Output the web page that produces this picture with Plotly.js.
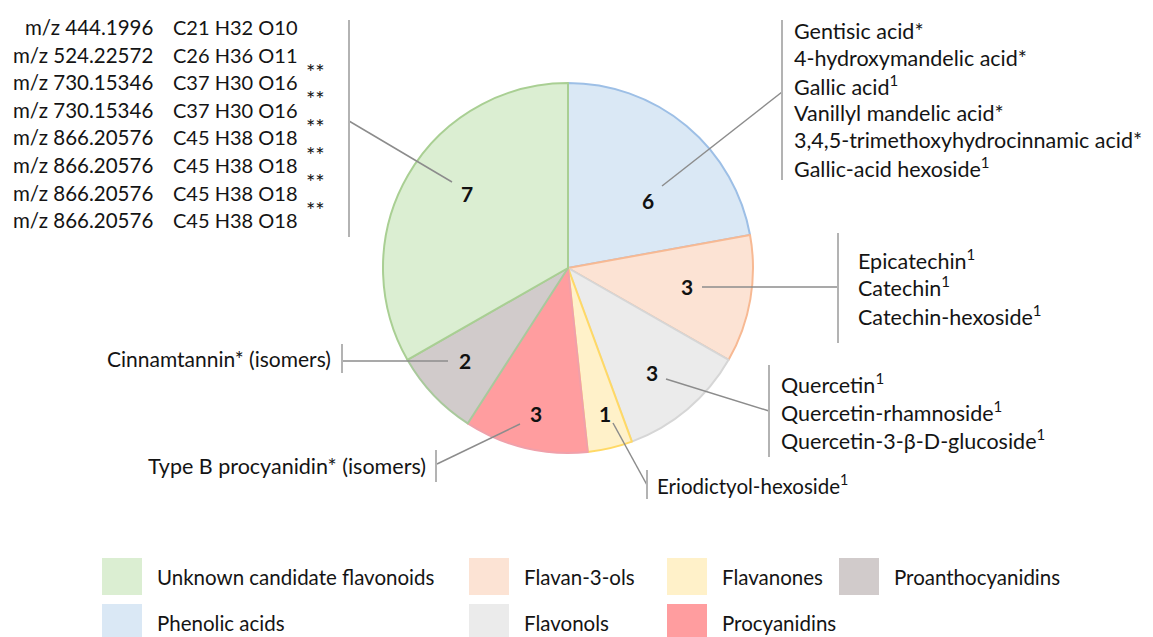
<!DOCTYPE html>
<html>
<head>
<meta charset="utf-8">
<script src="https://cdn.plot.ly/plotly-3.0.1.min.js"></script>
<style>html,body{margin:0;padding:0;background:#fff;}#chart{width:1153px;height:637px;}</style>
</head>
<body>
<div id="chart"></div>
<script>
// ---------- DATA ----------
const categories = ['Phenolic acids','Flavan-3-ols','Flavonols','Flavanones','Procyanidins','Proanthocyanidins','Unknown candidate flavonoids'];
// number of compounds printed on each slice
const compoundCounts = [6, 3, 3, 1, 3, 2, 7];
// angular share of each slice as drawn in the picture (%)
const sliceShare = [22.1, 11.1, 11.1, 3.9, 10.8, 7.6, 33.2];

const phenolicCompounds = ['Gentisic acid*','4-hydroxymandelic acid*','Gallic acid<sup>1</sup>','Vanillyl mandelic acid*','3,4,5-trimethoxyhydrocinnamic acid*','Gallic-acid hexoside<sup>1</sup>'];
const flavanolCompounds = ['Epicatechin<sup>1</sup>','Catechin<sup>1</sup>','Catechin-hexoside<sup>1</sup>'];
const flavonolCompounds = ['Quercetin<sup>1</sup>','Quercetin-rhamnoside<sup>1</sup>','Quercetin-3-β-D-glucoside<sup>1</sup>'];
const flavanoneCompounds = ['Eriodictyol-hexoside<sup>1</sup>'];
const procyanidinCompounds = ['Type B procyanidin* (isomers)'];
const proanthocyanidinCompounds = ['Cinnamtannin* (isomers)'];
const unknownMz = ['m/z 444.1996','m/z 524.22572','m/z 730.15346','m/z 730.15346','m/z 866.20576','m/z 866.20576','m/z 866.20576','m/z 866.20576'];
const unknownFormula = ['C21 H32 O10','C26 H36 O11','C37 H30 O16','C37 H30 O16','C45 H38 O18','C45 H38 O18','C45 H38 O18','C45 H38 O18'];
const unknownMark = ['','','**','**','**','**','**','**'];

// legend order (as in the picture)
const legendOrder = ['Unknown candidate flavonoids','Flavan-3-ols','Flavanones','Proanthocyanidins','Phenolic acids','Flavonols','Procyanidins'];

// ---------- STYLE ----------
const fillColors = ['#dae8f5','#fce3d4','#ebebeb','#fff1c9','#ff9d9f','#d1cbcb','#dbeed2'];
const lineColors = ['#9dbfe6','#f7b993','#d6d6d6','#ffd966','#f0a0aa','#a9c99c','#a9cf93'];
const W = 1153, H = 637;
const FONT = 'Lato, "Open Sans", sans-serif';
const TXT = '#141414';
const px = x => x / W;
const py = y => 1 - y / H;
const CX = 568, CY = 268, R = 185;

// callout geometry (pixels): label spot, leader line, bracket, text block
const callouts = [
  {label:[648,200], lead:[[662,186],[782,92]],  bracket:[782,20,180],  text:phenolicCompounds, tx:792, ty:31, dy:27.3, anchor:'left', size:21.5},
  {label:[687,287], lead:[[702,287],[838,287]], bracket:[838,233,343], text:flavanolCompounds, tx:856, ty:259, dy:28, anchor:'left', size:21.5},
  {label:[652,373], lead:[[666,379],[769,411]], bracket:[769,365,457], text:flavonolCompounds, tx:779, ty:384, dy:27.5, anchor:'left', size:21.5},
  {label:[605,413], lead:[[613,423],[647,485]], bracket:[647,470,499], text:flavanoneCompounds, tx:655, ty:484, dy:27, anchor:'left', size:20.5},
  {label:[536,413], lead:[[520,424],[437,464]], bracket:[436,450,482], text:procyanidinCompounds, tx:428, ty:466, dy:27, anchor:'right', size:21.5},
  {label:[465,360], lead:[[448,361],[342,361]], bracket:[342,344,373], text:proanthocyanidinCompounds, tx:333, ty:358, dy:27, anchor:'right', size:21},
  {label:[467,193], lead:[[452,182],[349,121]], bracket:[349,20,237], text:null}
];

const legendPos = {
  'Unknown candidate flavonoids':[102,558], 'Flavan-3-ols':[469,558], 'Flavanones':[667,558], 'Proanthocyanidins':[839,558],
  'Phenolic acids':[102,604], 'Flavonols':[469,604], 'Procyanidins':[667,604]
};
const SW = 40, SH = 37;

// ---------- BUILD ----------
const trace = {
  type:'pie',
  values: sliceShare,
  labels: categories,
  sort:false, direction:'clockwise', rotation:0,
  textinfo:'none', hoverinfo:'label',
  marker:{colors: fillColors, line:{color: lineColors, width:2}},
  domain:{x:[px(CX-R), px(CX+R)], y:[py(CY+R), py(CY-R)]},
  showlegend:false
};

const shapes = [];
const annotations = [];
const lineCol = '#8c8c8c', bracketCol = '#b3b3b3';

callouts.forEach((c, i) => {
  annotations.push({xref:'paper', yref:'paper', x:px(c.label[0]), y:py(c.label[1]), text:String(compoundCounts[i]),
    showarrow:false, xanchor:'center', yanchor:'middle', font:{family:FONT, size:21, color:'#111', weight:'bold'}});
  shapes.push({type:'line', xref:'paper', yref:'paper', x0:px(c.lead[0][0]), y0:py(c.lead[0][1]), x1:px(c.lead[1][0]), y1:py(c.lead[1][1]),
    line:{color:lineCol, width:1.5}});
  shapes.push({type:'line', xref:'paper', yref:'paper', x0:px(c.bracket[0]), y0:py(c.bracket[1]), x1:px(c.bracket[0]), y1:py(c.bracket[2]),
    line:{color:bracketCol, width:2}});
  if (c.text) {
    c.text.forEach((t, k) => {
      annotations.push({xref:'paper', yref:'paper', x:px(c.tx), y:py(c.ty + k*c.dy), text:t, showarrow:false,
        xanchor:c.anchor, yanchor:'middle', font:{family:FONT, size:c.size, color:TXT}});
    });
  }
});

// unknown flavonoid candidates list
unknownMz.forEach((m, k) => {
  const y = 27 + k*27.6;
  annotations.push({xref:'paper', yref:'paper', x:px(155), y:py(y), text:m, showarrow:false, xanchor:'right', yanchor:'middle',
    font:{family:FONT, size:20.5, color:TXT}});
  annotations.push({xref:'paper', yref:'paper', x:px(171), y:py(y), text:unknownFormula[k], showarrow:false, xanchor:'left', yanchor:'middle',
    font:{family:FONT, size:20, color:TXT}});
  if (unknownMark[k]) {
    annotations.push({xref:'paper', yref:'paper', x:px(304), y:py(y - 11), text:unknownMark[k], showarrow:false, xanchor:'left', yanchor:'middle',
      font:{family:FONT, size:22, color:TXT}});
  }
});

// legend
legendOrder.forEach(name => {
  const idx = categories.indexOf(name);
  const p = legendPos[name];
  shapes.push({type:'rect', xref:'paper', yref:'paper', x0:px(p[0]), x1:px(p[0]+SW), y0:py(Math.min(p[1]+SH, H)), y1:py(p[1]),
    fillcolor: fillColors[idx], line:{width:0}});
  annotations.push({xref:'paper', yref:'paper', x:px(p[0]+SW+13), y:py(p[1]+SH/2), text:name, showarrow:false,
    xanchor:'left', yanchor:'middle', font:{family:FONT, size:20.5, color:TXT}});
});

const layout = {
  width:W, height:H, margin:{l:0, r:0, t:0, b:0},
  paper_bgcolor:'#fff', plot_bgcolor:'#fff',
  shapes, annotations, showlegend:false
};

Plotly.newPlot('chart', [trace], layout, {staticPlot:true, displayModeBar:false});
</script>
</body>
</html>
